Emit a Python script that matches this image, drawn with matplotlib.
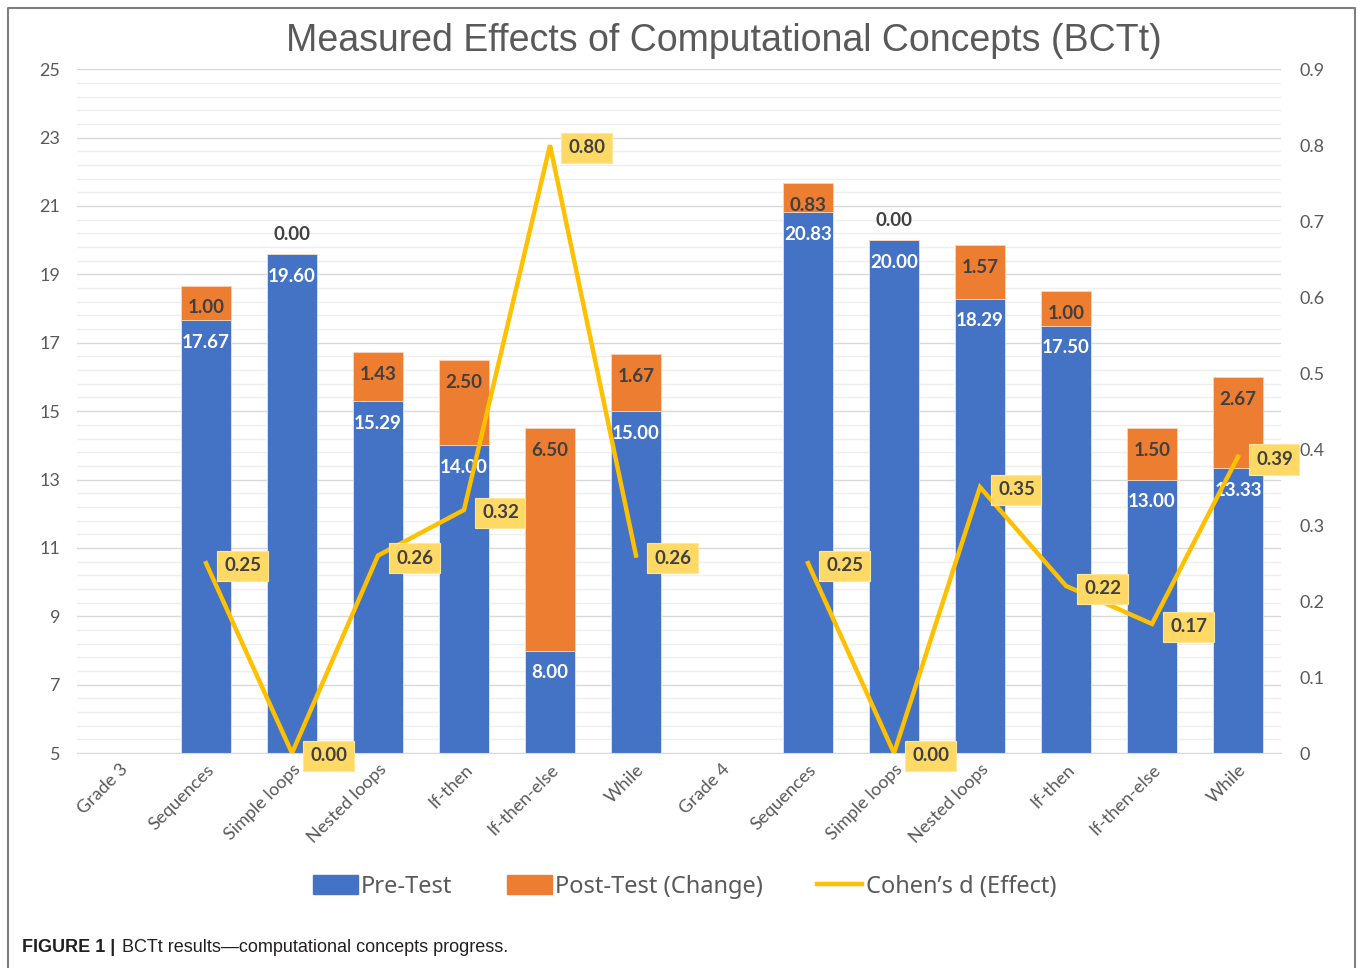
"""
Measured Effects of Computational Concepts (BCTt) - stacked pre/post bars
with Cohen's d on a secondary axis.
"""

import numpy as np
import matplotlib
matplotlib.use("Agg")
import matplotlib.pyplot as plt
import matplotlib.patches as mpatches
from matplotlib.lines import Line2D


# ── data ──────────────────────────────────────────────────────────────────────

categories = ["Grade 3", "Sequences", "Simple loops", "Nested loops", "If-then",
              "If-then-else", "While", "Grade 4", "Sequences", "Simple loops",
              "Nested loops", "If-then", "If-then-else", "While"]

pre_test = [np.nan, 17.67, 19.60, 15.29, 14.00, 8.00, 15.00,
            np.nan, 20.83, 20.00, 18.29, 17.50, 13.00, 13.33]

post_change = [np.nan, 1.00, 0.00, 1.43, 2.50, 6.50, 1.67,
               np.nan, 0.83, 0.00, 1.57, 1.00, 1.50, 2.67]

cohens_d = [np.nan, 0.25, 0.00, 0.26, 0.32, 0.80, 0.26,
            np.nan, 0.25, 0.00, 0.35, 0.22, 0.17, 0.39]


# ── style ─────────────────────────────────────────────────────────────────────

BLUE   = "#4472C4"
ORANGE = "#ED7D31"
GOLD   = "#FFC000"
LABEL_BOX = "#FFD966"
GREY_TXT = "#595959"
DARK_TXT = "#404040"

LBL_FONT = ["Lato", "DejaVu Sans"]
LBL_SIZE = 13.5


# ── plot ──────────────────────────────────────────────────────────────────────

fig = plt.figure(figsize=(13.58, 9.68), dpi=100)
fig.patch.set_facecolor("white")

ax = fig.add_axes([0.0567, 0.222, 0.8866, 0.7065])
x = np.arange(len(categories))
pre = np.array(pre_test)
post = np.array(post_change)
d = np.array(cohens_d)

ax.bar(x, pre, width=0.58, color=BLUE, edgecolor="#dce6f5", linewidth=0.6,
       zorder=2)
ax.bar(x, post, width=0.58, bottom=pre, color=ORANGE, edgecolor="#f8d5bd",
       linewidth=0.6, zorder=2)

ax.set_xlim(-0.5, len(categories) - 0.5)
ax.set_ylim(5, 25)
ax.set_yticks(np.arange(5, 26, 2))
ax.set_yticks(np.arange(5, 25.01, 0.4), minor=True)
ax.grid(axis="y", which="major", color="#d9d9d9", linewidth=1.0, zorder=0)
ax.grid(axis="y", which="minor", color="#efefef", linewidth=1.0, zorder=0)
ax.set_axisbelow(True)
for s in ax.spines.values():
    s.set_visible(False)
ax.spines["bottom"].set_visible(True)
ax.spines["bottom"].set_color("#d9d9d9")
ax.tick_params(axis="y", which="both", length=0, labelsize=13,
               labelcolor=GREY_TXT, pad=12)
ax.tick_params(axis="x", length=0, labelsize=13, labelcolor=GREY_TXT, pad=6)
ax.set_xticks(x)
ax.set_xticklabels(categories, rotation=45, ha="right", rotation_mode="anchor",
                   family=LBL_FONT)
for t in ax.get_yticklabels():
    t.set_family(LBL_FONT)

# data labels for bars
for xi, p, c in zip(x, pre, post):
    if np.isnan(p):
        continue
    ax.annotate(f"{p:.2f}", (xi, p), xytext=(0, -16), textcoords="offset points",
                ha="center", va="center", color="white", fontsize=LBL_SIZE,
                fontweight="bold", family=LBL_FONT, zorder=4)
    dy = 14 if c == 0 else -16
    ax.annotate(f"{c:.2f}", (xi, p + c), xytext=(0, dy),
                textcoords="offset points", ha="center", va="center",
                color=DARK_TXT, fontsize=LBL_SIZE, fontweight="bold",
                family=LBL_FONT, zorder=4)

# Cohen's d on secondary axis
ax2 = ax.twinx()
ax2.set_ylim(0, 0.9)
ax2.set_yticks(np.arange(0, 0.91, 0.1))
ax2.set_yticklabels(["0"] + [f"{v:.1f}" for v in np.arange(0.1, 0.91, 0.1)])
for s in ax2.spines.values():
    s.set_visible(False)
ax2.tick_params(axis="y", length=0, labelsize=13, labelcolor=GREY_TXT, pad=13)
for t in ax2.get_yticklabels():
    t.set_family(LBL_FONT)

ax2.plot(x, d, color=GOLD, linewidth=3.2, solid_joinstyle="miter", zorder=3)
for xi, v in zip(x, d):
    if np.isnan(v):
        continue
    ax2.annotate(f"{v:.2f}", (xi, v), xytext=(13, -2), textcoords="offset points",
                 ha="left", va="center", color=DARK_TXT, fontsize=LBL_SIZE,
                 fontweight="bold", family=LBL_FONT, zorder=5,
                 bbox=dict(boxstyle="square,pad=0.35", facecolor=LABEL_BOX,
                           edgecolor="#FFE699", linewidth=0.8),
                 annotation_clip=False)

# title
fig.text(0.533, 0.958, "Measured Effects of Computational Concepts (BCTt)",
         ha="center", va="center", fontsize=27, color=GREY_TXT,
         family=["Liberation Sans", "DejaVu Sans"])

# legend
handles = [mpatches.Patch(color=BLUE, label="Pre-Test"),
           mpatches.Patch(color=ORANGE, label="Post-Test (Change)"),
           Line2D([0], [0], color=GOLD, linewidth=3.2, label="Cohen’s d (Effect)")]
leg = fig.legend(handles=handles, loc="center", bbox_to_anchor=(0.504, 0.084),
                 ncol=3, frameon=False, handlelength=1.9,
                 handleheight=0.9, handletextpad=0.15, columnspacing=2.3,
                 prop={"family": ["Noto Sans", "DejaVu Sans"], "size": 17})
for t in leg.get_texts():
    t.set_color(GREY_TXT)

# caption
fig.text(0.016, 0.021, "FIGURE 1 |", ha="left", va="center", fontsize=13,
         fontweight="bold", color="#231f20",
         family=["Liberation Sans Narrow", "Liberation Sans"])
fig.text(0.090, 0.021, "BCTt results\u2014computational concepts progress.",
         ha="left", va="center", fontsize=13, color="#231f20",
         family=["Liberation Sans Narrow", "Liberation Sans"])

# frame around the figure
frame = plt.Line2D([0.006, 0.006, 0.998, 0.998], [0.0, 0.992, 0.992, 0.0],
                   transform=fig.transFigure, color="#7f7f7f", linewidth=1.5)
fig.add_artist(frame)

fig.savefig("out.png", dpi=100, facecolor="white")
